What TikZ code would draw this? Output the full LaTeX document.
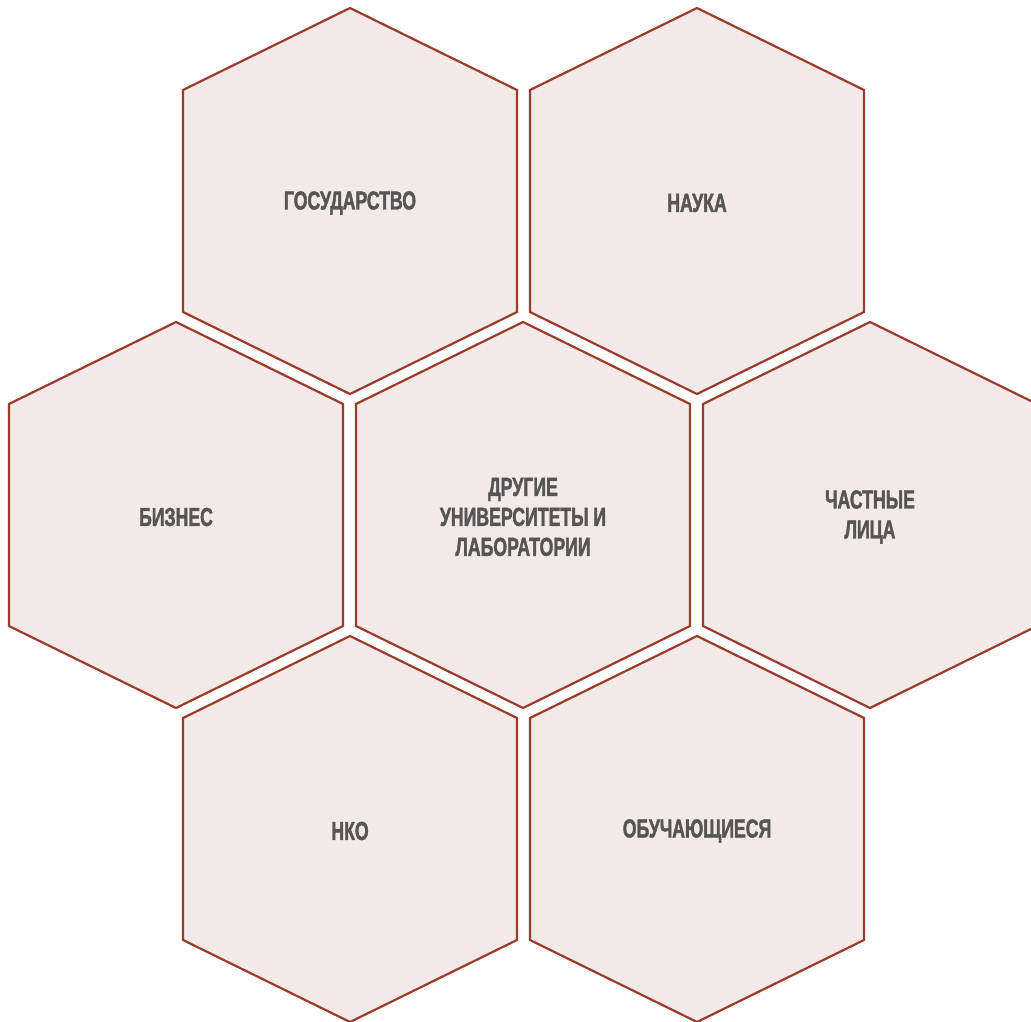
\documentclass[tikz,border=0pt]{standalone}
\usepackage{fontspec}
\newfontfamily\condfont[FakeStretch=0.68,FakeBold=1.6]{Liberation Sans Bold}
\definecolor{hexline}{HTML}{9A3B2B}
\definecolor{hexfill}{HTML}{F4E9E9}
\definecolor{hextext}{HTML}{555555}
\newcommand\hexa[2]{%
  \draw[hexshape] (#1,#2-193) -- (#1-167,#2-111) -- (#1-167,#2+111) -- (#1,#2+193) -- (#1+167,#2+111) -- (#1+167,#2-111) -- cycle;}
\begin{document}
\begin{tikzpicture}[x=1pt,y=-1pt,
  hexshape/.style={draw=hexline,fill=hexfill,line width=2.2pt,line join=miter},
  hexlabel/.style={text=hextext,font=\condfont\fontsize{26}{30}\selectfont,align=center}]
\useasboundingbox (0,0) rectangle (1031,1021);
\clip (0,0) rectangle (1031,1021);
\hexa{350}{201}
\hexa{697}{201}
\hexa{176}{515}
\hexa{523}{515}
\hexa{870}{515}
\hexa{350}{829}
\hexa{697}{829}
\node[hexlabel] (gos) at (350,203) {ГОСУДАРСТВО};
\node[hexlabel] (nauka) at (697,203) {НАУКА};
\node[hexlabel] (biz) at (176,517) {БИЗНЕС};
\node[hexlabel] (univ) at (523,517) {ДРУГИЕ\\УНИВЕРСИТЕТЫ И\\ЛАБОРАТОРИИ};
\node[hexlabel] (chast) at (870,517) {ЧАСТНЫЕ\\ЛИЦА};
\node[hexlabel] (nko) at (350,831) {НКО};
\node[hexlabel] (obuch) at (697,831) {ОБУЧАЮЩИЕСЯ};
\end{tikzpicture}
\end{document}
